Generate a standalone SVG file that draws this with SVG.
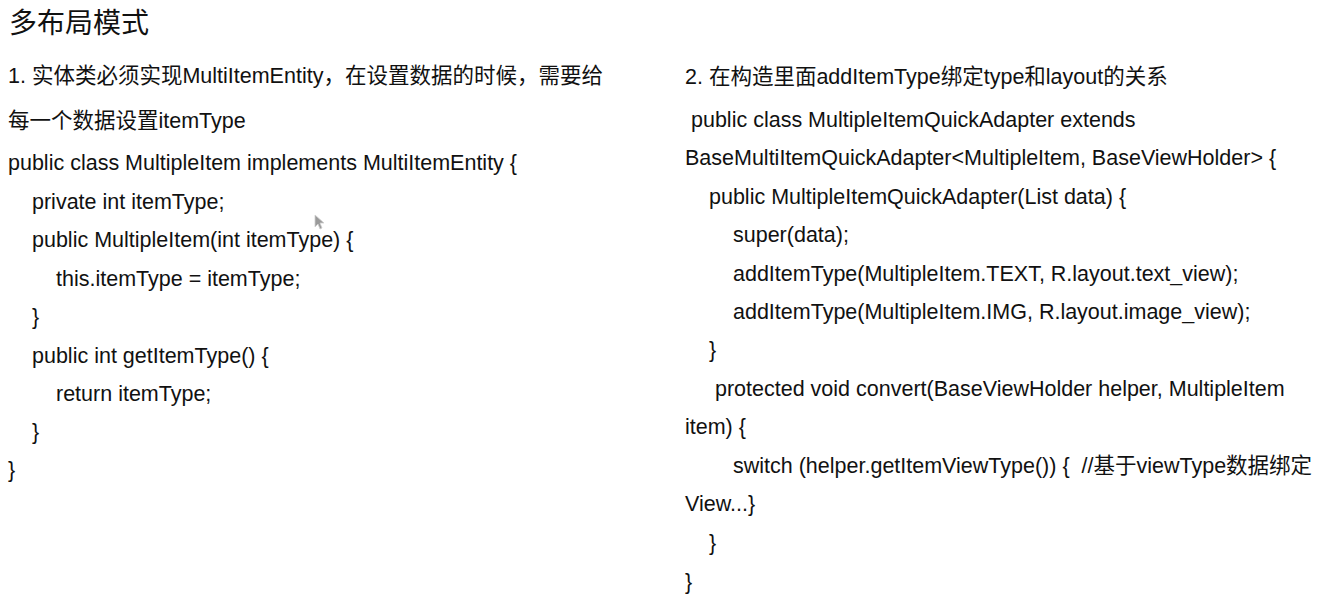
<svg xmlns="http://www.w3.org/2000/svg" width="1318" height="600" viewBox="0 0 1318 600">
<style>
text{font-family:"Liberation Sans","Noto Sans CJK SC",sans-serif;font-size:21.5px;fill:#111}
.title{font-family:"Noto Sans CJK SC","Liberation Sans",sans-serif;font-size:28px}
</style>
<rect width="1318" height="600" fill="#ffffff"/>
<g id="title">
<text class="title" x="9" y="33">多布局模式</text>
</g>
<g id="left-column">
<text x="8" y="83">1. 实体类必须实现MultiItemEntity，在设置数据的时候，需要给</text>
<text x="8" y="128">每一个数据设置itemType</text>
<text x="8" y="170">public class MultipleItem implements MultiItemEntity {</text>
<text x="32" y="209">private int itemType;</text>
<text x="32" y="247">public MultipleItem(int itemType) {</text>
<text x="56" y="286">this.itemType = itemType;</text>
<text x="32" y="324">}</text>
<text x="32" y="363">public int getItemType() {</text>
<text x="56" y="401">return itemType;</text>
<text x="32" y="439">}</text>
<text x="8" y="477">}</text>
</g>
<g id="right-column">
<text x="685" y="84">2. 在构造里面addItemType绑定type和layout的关系</text>
<text x="691" y="127">public class MultipleItemQuickAdapter extends</text>
<text x="685" y="165">BaseMultiItemQuickAdapter&lt;MultipleItem, BaseViewHolder&gt; {</text>
<text x="709" y="204">public MultipleItemQuickAdapter(List data) {</text>
<text x="733" y="242">super(data);</text>
<text x="733" y="281">addItemType(MultipleItem.TEXT, R.layout.text_view);</text>
<text x="733" y="319">addItemType(MultipleItem.IMG, R.layout.image_view);</text>
<text x="709" y="357">}</text>
<text x="715" y="396">protected void convert(BaseViewHolder helper, MultipleItem</text>
<text x="685" y="434">item) {</text>
<text x="733" y="473" xml:space="preserve">switch (helper.getItemViewType()) {  //基于viewType数据绑定</text>
<text x="685" y="511">View...}</text>
<text x="709" y="550">}</text>
<text x="685" y="589">}</text>
</g>
<g id="cursor">
<path d="M315,215 L315,227 L318,224 L320,229 L322,228 L320,223 L324,223 Z" fill="#9a9a9a" stroke="#cfcfcf" stroke-width="0.8"/>
</g>
</svg>
